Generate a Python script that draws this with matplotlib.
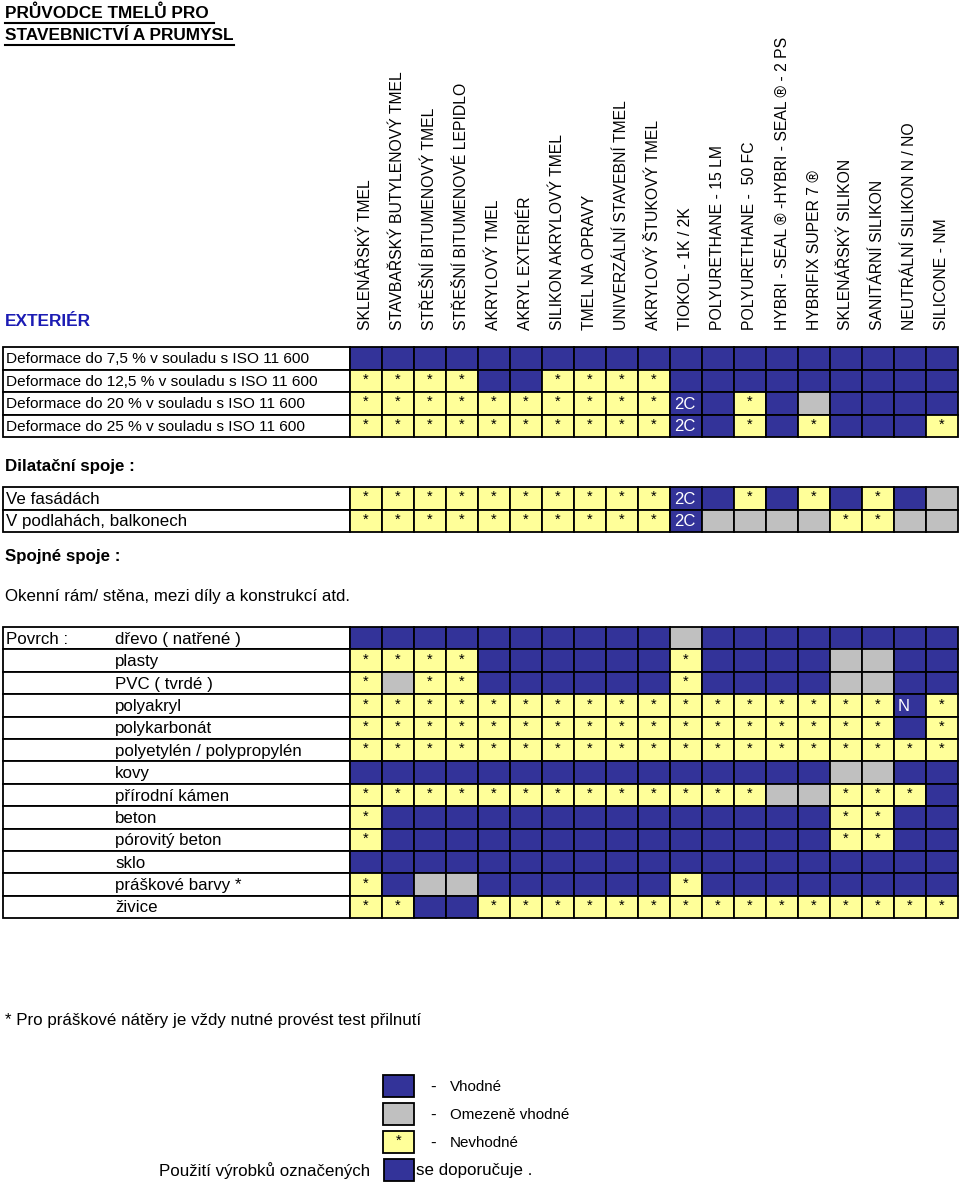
import matplotlib
matplotlib.use("Agg")
import matplotlib.pyplot as plt
from matplotlib.patches import Rectangle

plt.rcParams['font.family'] = ['Liberation Sans', 'DejaVu Sans']

# ---------------- data ----------------
title_lines = ["PRŮVODCE TMELŮ PRO ", "STAVEBNICTVÍ A PRUMYSL"]
section_title = "EXTERIÉR"

columns = [
    "SKLENÁŘSKÝ TMEL", "STAVBAŘSKÝ BUTYLENOVÝ TMEL", "STŘEŠNÍ BITUMENOVÝ TMEL",
    "STŘEŠNÍ BITUMENOVÉ LEPIDLO", "AKRYLOVÝ TMEL", "AKRYL EXTERIÉR",
    "SILIKON AKRYLOVÝ TMEL", "TMEL NA OPRAVY", "UNIVERZÁLNÍ STAVEBNÍ TMEL",
    "AKRYLOVÝ ŠTUKOVÝ TMEL", "TIOKOL - 1K / 2K", "POLYURETHANE - 15 LM",
    "POLYURETHANE -  50 FC", "HYBRI - SEAL ® -HYBRI - SEAL ® - 2 PS",
    "HYBRIFIX SUPER 7 ®", "SKLENÁŘSKÝ SILIKON", "SANITÁRNÍ SILIKON",
    "NEUTRÁLNÍ SILIKON N / NO", "SILICONE - NM",
]

# codes: B = vhodné (blue), G = omezeně vhodné (grey), * = nevhodné (yellow),
#        other text = blue cell with white text
deform_labels = [
    "Deformace do 7,5 % v souladu s ISO 11 600",
    "Deformace do 12,5 % v souladu s ISO 11 600",
    "Deformace do 20 % v souladu s ISO 11 600",
    "Deformace do 25 % v souladu s ISO 11 600",
]
deform_codes = [
    "B B B B B B B B B B B B B B B B B B B".split(),
    "* * * * B B * * * * B B B B B B B B B".split(),
    "* * * * * * * * * * 2C B * B G B B B B".split(),
    "* * * * * * * * * * 2C B * B * B B B *".split(),
]

dilat_title = "Dilatační spoje :"
dilat_labels = ["Ve fasádách", "V podlahách, balkonech"]
dilat_codes = [
    "* * * * * * * * * * 2C B * B * B * B G".split(),
    "* * * * * * * * * * 2C G G G G * * G G".split(),
]

spoj_title = "Spojné spoje :"
spoj_sub = "Okenní rám/ stěna, mezi díly a konstrukcí atd."

surf_group = "Povrch :"
surf_labels = [
    "dřevo ( natřené )", "plasty", "PVC ( tvrdé )", "polyakryl", "polykarbonát",
    "polyetylén / polypropylén", "kovy", "přírodní kámen", "beton",
    "pórovitý beton", "sklo", "práškové barvy *", "živice",
]
surf_codes = [
    "B B B B B B B B B B G B B B B B B B B".split(),
    "* * * * B B B B B B * B B B B G G B B".split(),
    "* G * * B B B B B B * B B B B G G B B".split(),
    "* * * * * * * * * * * * * * * * * N *".split(),
    "* * * * * * * * * * * * * * * * * B *".split(),
    "* * * * * * * * * * * * * * * * * * *".split(),
    "B B B B B B B B B B B B B B B G G B B".split(),
    "* * * * * * * * * * * * * G G * * * B".split(),
    "* B B B B B B B B B B B B B B * * B B".split(),
    "* B B B B B B B B B B B B B B * * B B".split(),
    "B B B B B B B B B B B B B B B B B B B".split(),
    "* B G G B B B B B B * B B B B B B B B".split(),
    "* * B B * * * * * * * * * * * * * * *".split(),
]

footnote = "* Pro práškové nátěry je vždy nutné provést test přilnutí"
legend_codes = ["B", "G", "*"]
legend_labels = ["Vhodné", "Omezeně vhodné", "Nevhodné"]
recommend_left = "Použití výrobků označených"
recommend_right = "se doporučuje ."

# ---------------- style ----------------
BLUE = "#333399"
GREY = "#C0C0C0"
YELLOW = "#FFFF99"
EDGE = "#000000"
LW = 1.3
FS1 = 11.1
FS = 12.2

W, H = 960, 1184
fig = plt.figure(figsize=(W / 100, H / 100), dpi=100)
ax = fig.add_axes([0, 0, 1, 1])
ax.set_xlim(0, W)
ax.set_ylim(H, 0)
ax.axis("off")

X_LABEL = 3
X_GRID = 350
CW = 32


def draw_cell(x, y, w, h, code):
    if code == "G":
        fc = GREY
    elif code == "*":
        fc = YELLOW
    else:
        fc = BLUE
    ax.add_patch(Rectangle((x, y), w, h, facecolor=fc, edgecolor=EDGE, lw=LW, zorder=2))
    if code == "*":
        ax.text(x + w / 2, y + h / 2 - 1, "*", ha="center", va="center",
                fontsize=10.5, color="black", zorder=3)
    elif code not in ("B", "G"):
        ax.text(x + 4, y + h / 2 + 1, code, ha="left", va="center",
                fontsize=12, color="white", zorder=3)


def draw_table(y0, rh, labels, codes, fs, label_x=6, group=None):
    for i, (lab, row) in enumerate(zip(labels, codes)):
        y = y0 + i * rh
        ax.add_patch(Rectangle((X_LABEL, y), X_GRID - X_LABEL, rh,
                               facecolor="white", edgecolor=EDGE, lw=LW, zorder=1))
        ax.text(label_x, y + rh / 2 + 1, lab, ha="left", va="center",
                fontsize=fs, color="black", zorder=3)
        if group is not None and i == 0:
            ax.text(6, y + rh / 2 + 1, group, ha="left", va="center",
                    fontsize=fs, color="black", zorder=3)
        for j, c in enumerate(row):
            draw_cell(X_GRID + j * CW, y, CW, rh, c)


# title with underline
fig.canvas.draw()
renderer = fig.canvas.get_renderer()
inv = ax.transData.inverted()
for k, line in enumerate(title_lines):
    t = ax.text(5, 13 + k * 22, line, ha="left", va="center", fontsize=12.4,
                fontweight="bold", color="black")
    bb = t.get_window_extent(renderer=renderer)
    (dx0, _), (dx1, _) = inv.transform([(bb.x0, 0), (bb.x1, 0)])
    ax.plot([dx0, dx1], [22.5 + k * 22, 22.5 + k * 22], color="black", lw=1.5)

ax.text(5, 322, section_title, ha="left", va="center", fontsize=12.4,
        fontweight="bold", color="#1c1cb4")

# column headers
for j, name in enumerate(columns):
    ax.text(X_GRID + j * CW + CW / 2, 330, name, rotation=90, ha="center",
            va="bottom", fontsize=11.3, color="black")

draw_table(347, 22.5, deform_labels, deform_codes, FS1)

ax.text(5, 466, dilat_title, ha="left", va="center", fontsize=FS,
        fontweight="bold")
draw_table(487, 22.5, dilat_labels, dilat_codes, FS)

ax.text(5, 556, spoj_title, ha="left", va="center", fontsize=FS,
        fontweight="bold")
ax.text(5, 596, spoj_sub, ha="left", va="center", fontsize=FS)

draw_table(627, 22.4, surf_labels, surf_codes, FS, label_x=115, group=surf_group)

ax.text(5, 1021, footnote, ha="left", va="center", fontsize=FS)

# legend
for k, (c, lab) in enumerate(zip(legend_codes, legend_labels)):
    y = 1075 + k * 28
    draw_cell(383, y, 31, 22, c)
    ax.text(430, y + 12, "-", ha="left", va="center", fontsize=FS)
    ax.text(450, y + 12, lab, ha="left", va="center", fontsize=10.9)

draw_cell(384, 1159, 30, 22, "B")
ax.text(370, 1171, recommend_left, ha="right", va="center", fontsize=FS)
ax.text(416, 1171, recommend_right, ha="left", va="center", fontsize=FS)

fig.savefig("out.png", dpi=100)
